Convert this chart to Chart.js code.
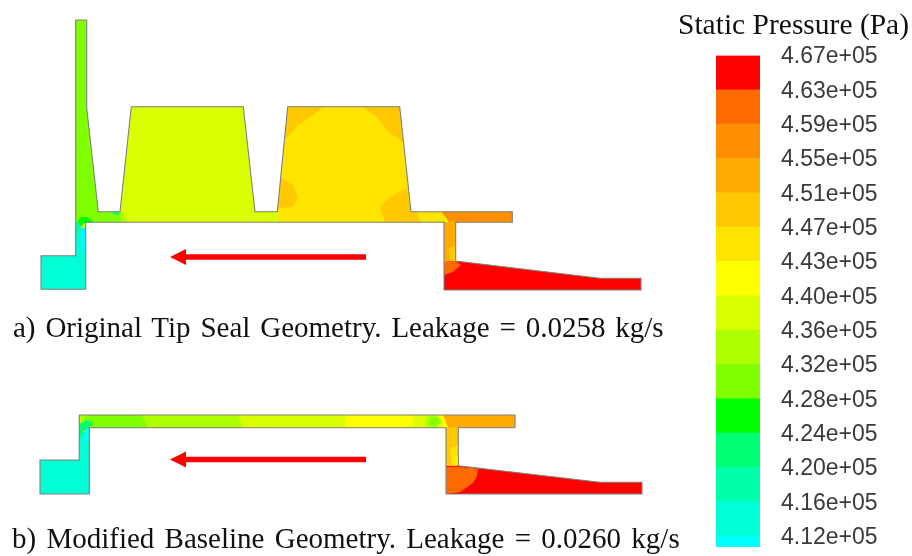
<!DOCTYPE html>
<html>
<head>
<meta charset="utf-8">
<title>Static Pressure</title>
<script src="https://cdn.jsdelivr.net/npm/chart.js@4"></script>
<style>
html,body{margin:0;padding:0;background:#fff;width:912px;height:556px;overflow:hidden}
canvas{position:absolute;top:0;filter:blur(.55px)}
#geo{left:0}
#key{left:676px}
.cap{position:absolute;font-family:"Liberation Serif",serif;font-size:29px;line-height:30px;color:#111;white-space:pre}
#keyTitle{left:678px;top:5px;font-size:29.5px;line-height:38px}
</style>
</head>
<body>
<canvas id="geo" width="670" height="556"></canvas>
<canvas id="key" width="236" height="556"></canvas>
<div class="cap" id="keyTitle">Static Pressure (Pa)</div>
<div class="cap" id="capA" style="left:13px;top:312px;word-spacing:2.6px">a) Original Tip Seal Geometry. Leakage = 0.0258 kg/s</div>
<div class="cap" id="capB" style="left:12px;top:523px;word-spacing:3px">b) Modified Baseline Geometry. Leakage = 0.0260 kg/s</div>
<script>
// colour key
var pressureLabels=['4.12e+05','4.16e+05','4.20e+05','4.24e+05','4.28e+05','4.32e+05','4.36e+05','4.40e+05','4.43e+05','4.47e+05','4.51e+05','4.55e+05','4.59e+05','4.63e+05','4.67e+05'];
var bandEdges=[-0.32,0,1,2,3,4,5,6,7,8,9,10,11,12,13,14];
var bandColors=['#00ffff','#00ffd5','#00ffaa','#00ff75','#00ff00','#7fff00','#aeff00','#d9ff00','#ffff00','#ffe400','#ffc800','#ffaa00','#ff8e00','#ff6a00','#ff0000'];

// a) original seal, picture coordinates
var sealA=[[75.7,20],[86.7,20],[86.7,108],[98.3,211.7],[120,211.7],[131.3,106.7],[243.3,106.7],[255,211.7],[277.3,211.7],[287.7,106.7],[399.7,106.7],[411,211.7],[512.3,211.7],[512.3,222.3],[455.7,222.3],[455.7,261],[600,278.3],[641,278.3],[641,290],[444,290],[444,222.3],[85.7,222.3],[85.7,289.3],[41,289.3],[41,255.7],[75.7,255.7],[75.7,20]];
var towerA=[[75.7,20],[86.7,20],[86.7,108],[98.3,211.7],[120,211.7],[123,222.3],[75.7,222.3]];
var slipA=[[119,211.7],[123,211.7],[128,222.3],[122,222.3]];
var spotA=[[113,211.7],[120,211.7],[119,214.5],[115,215]];
var chamberA=[[279,222.3],[277.3,211.7],[287.7,106.7],[399.7,106.7],[411,211.7],[441.7,211.7],[446,222.3]];
var cornerTL=[[287.7,106.7],[322.7,106.7],[313,115],[298,125],[284.3,140]];
var cornerTR=[[363,106.7],[399.7,106.7],[403.5,142],[390,133],[377,118]];
var cornerBL=[[281,178],[293,185],[298,197],[293,207],[278,208]];
var cornerBR=[[406.7,188],[390,197],[380,207],[385,222.3],[420,222.3],[417,211.7],[411,211.7]];
var stemA=[[444,222.3],[444,263],[455.7,263],[455.7,222.3]];
var flangeA=[[441.7,211.7],[512.3,211.7],[512.3,222.3],[449,222.3]];
var stemSpotA=[[448.5,248],[455.7,245],[455.7,261],[450,261]];
var exitA=[[444,262],[455.7,261],[600,278.3],[641,278.3],[641,290],[444,290]];
var exitCornerA=[[444,262],[455.7,261],[460.7,265],[453,272],[444,275]];
var inletA=[[41,255.7],[75.7,255.7],[75.7,228],[85.7,228],[85.7,289.3],[41,289.3]];
var neckA=[[80,232],[85.7,226],[85.7,250],[83,254]];
var neckGreenA=[[75.7,222],[85.7,222],[80,228],[77,234],[75.7,236]];
var archA=[[77.5,221],[81,217],[87,217],[94,222.3],[85.7,222.3],[80,226]];

// b) modified baseline
var sealB=[[79.3,415],[515,415],[515,427.7],[458.3,427.7],[458.3,465.7],[600,482.3],[642,482.3],[642,494],[446,494],[446,427.7],[89.3,427.7],[89.3,494],[40,494],[40,460],[79.3,460],[79.3,415]];
var stripGreenB=[[79.3,415],[141.7,415],[148.3,427.7],[79.3,427.7]];
var stripLimeB=[[141.7,415],[238,415],[243,427.7],[148.3,427.7]];
var stripYellowB=[[345,415],[413,415],[413,427.7],[345,427.7]];
var stripLime2B=[[427,415],[437,415],[443,422],[437,427.7],[425,427.7]];
var stripGreen2B=[[431,417],[438,418],[440,422],[434,426],[429,424]];
var stripYellow2B=[[437,415],[444,415],[449,427.7],[437,427.7],[443,422]];
var flangeB=[[443,415],[515,415],[515,427.7],[458.3,427.7],[448,427.7]];
var stemB=[[446,427.7],[458.3,427.7],[458.3,468],[446,468]];
var stemSpotB=[[450,448],[458.3,445],[458.3,466],[452,468]];
var stemSpot2B=[[455,458],[458.3,456],[458.3,465.7],[456,465.5]];
var exitB=[[446,466],[458.3,465.7],[600,482.3],[642,482.3],[642,494],[446,494]];
var exitCornerB=[[446,467],[458.3,467],[478,468.5],[477,476],[473,483],[460,492],[448,494],[446,494]];
var inletB=[[40,460],[79.3,460],[79.3,432],[89.3,432],[89.3,494],[40,494]];
var neckB=[[85,430],[89.3,428],[89.3,442],[86,442]];
var cornerB=[[79.3,424],[86,420],[93,422.5],[89.3,427.7],[89.3,431],[84,431],[80,438],[79.3,440]];
var topCornerB=[[79.3,415],[85,415],[85,421],[79.3,424]];

// flow arrows
var shaftA=[[185,257],[366,257]];
var headA=[[170,257],[186,249],[186,265]];
var shaftB=[[185,459.5],[366,459.5]];
var headB=[[170,459.5],[186,451.5],[186,467.5]];

var regions=[
  [sealA,'#d9ff00'],[towerA,'#7fff00'],[slipA,'#aeff00'],[spotA,'#00ff75'],
  [chamberA,'#ffe400'],[cornerTL,'#ffc800'],[cornerTR,'#ffc800'],[cornerBL,'#ffc800'],[cornerBR,'#ffc800'],
  [stemA,'#ffaa00'],[flangeA,'#ff8e00'],[stemSpotA,'#ffc800'],[exitA,'#ff0000'],[exitCornerA,'#ff6a00'],
  [inletA,'#00ffd5'],[neckA,'#00ffff'],[neckGreenA,'#00ffaa'],[archA,'#00ff00'],
  [sealB,'#d9ff00'],[inletB,'#00ffd5'],[stripGreenB,'#7fff00'],[stripLimeB,'#aeff00'],[stripYellowB,'#ffff00'],
  [stripLime2B,'#aeff00'],[stripGreen2B,'#7fff00'],[stripYellow2B,'#ffff00'],[flangeB,'#ffaa00'],
  [stemB,'#ffc800'],[stemSpotB,'#ffe400'],[stemSpot2B,'#ffff00'],[exitB,'#ff0000'],[exitCornerB,'#ff6a00'],
  [cornerB,'#00ff75'],[neckB,'#00ffff'],[topCornerB,'#aeff00'],
  [headA,'#ff0000'],[headB,'#ff0000']
];

function xy(pts){return pts.map(function(p){return{x:p[0],y:p[1]};});}

var geoSets=regions.map(function(r){
  return{data:xy(r[0]),showLine:true,fill:'shape',backgroundColor:r[1],borderWidth:0,pointRadius:0,tension:0};
});
[sealA,sealB].forEach(function(s){
  geoSets.push({data:xy(s),showLine:true,fill:false,borderColor:'#808080',borderWidth:1.1,pointRadius:0,tension:0});
});
[shaftA,shaftB].forEach(function(s){
  geoSets.push({data:xy(s),showLine:true,fill:false,borderColor:'#ff0000',borderWidth:5.5,pointRadius:0,tension:0});
});
geoSets.forEach(function(d,i){d.order=-i;});

new Chart(document.getElementById('geo'),{
  type:'scatter',data:{datasets:geoSets},
  options:{responsive:false,animation:false,layout:{padding:0},
    plugins:{legend:{display:false},tooltip:{enabled:false}},
    scales:{x:{type:'linear',display:false,min:0,max:670},y:{type:'linear',display:false,reverse:true,min:0,max:556}}}
});

var keySets=bandColors.map(function(c,i){
  return{data:[[bandEdges[i],bandEdges[i+1]]],backgroundColor:c,borderWidth:0,barPercentage:1,categoryPercentage:1,grouped:false};
});

new Chart(document.getElementById('key'),{
  type:'bar',data:{labels:['p'],datasets:keySets},
  options:{responsive:false,animation:false,layout:{padding:{left:40,top:55.5,bottom:9}},
    plugins:{legend:{display:false},tooltip:{enabled:false}},
    scales:{
      x:{display:false},
      y:{position:'right',min:-0.32,max:14,grid:{display:false},border:{display:false},
        afterFit:function(s){s.width=152;s.paddingTop=0;s.paddingBottom=0;},
        afterBuildTicks:function(s){s.ticks=pressureLabels.map(function(l,i){return{value:i,label:l};});},
        ticks:{autoSkip:false,padding:13,labelOffset:1.5,color:'#3a3a3a',font:{family:'Liberation Sans',size:23},
          callback:function(v){return pressureLabels[v];}}}
    }}
});
</script>
</body>
</html>
